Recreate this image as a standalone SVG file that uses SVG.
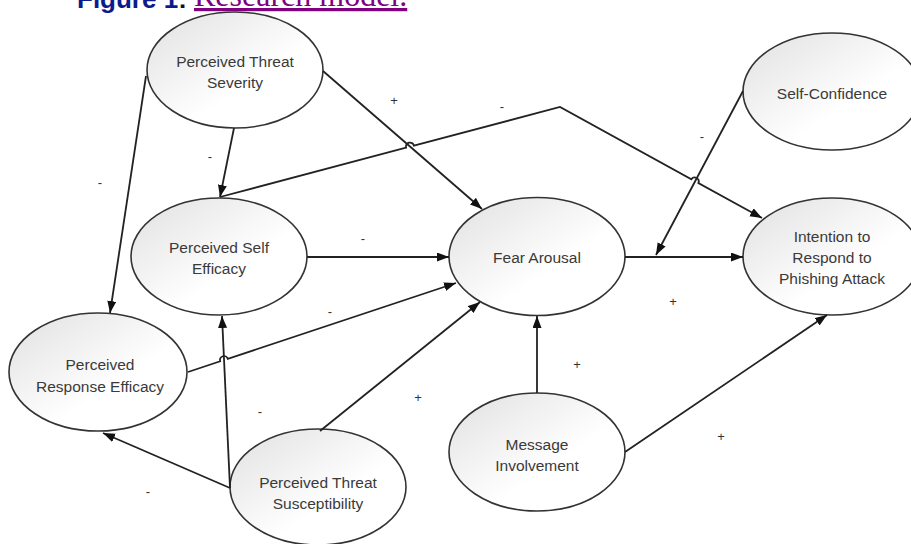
<svg xmlns="http://www.w3.org/2000/svg" width="911" height="544" viewBox="0 0 911 544">
<style>
  .node ellipse { fill: url(#g); stroke: #333; stroke-width: 1.6; }
  .node text { font-family: "Liberation Sans", Arial, sans-serif; font-size: 15.5px; fill: #3a3a3a; text-anchor: middle; }
  .conn path { fill: none; stroke: #222; stroke-width: 1.8; }
  .sign { font-family: "Liberation Sans", Arial, sans-serif; font-size: 13px; fill: #333; text-anchor: middle; }
</style>
<defs>
  <linearGradient id="g" x1="0" y1="0" x2="1" y2="1">
    <stop offset="0" stop-color="#e0e0e0"/>
    <stop offset="0.6" stop-color="#ffffff"/>
    <stop offset="1" stop-color="#ffffff"/>
  </linearGradient>
  <marker id="ah" markerUnits="userSpaceOnUse" markerWidth="13" markerHeight="10" refX="12" refY="4.5" orient="auto">
    <path d="M0,0 L12,4.5 L0,9 z" fill="#111"/>
  </marker>
</defs>
<rect width="911" height="544" fill="#fff"/>

<g id="title">
  <text x="77" y="8" font-family="Liberation Sans, Arial, sans-serif" font-weight="bold" font-size="26" fill="#0b1b8f">Figure 1<tspan fill="#111">:</tspan></text>
  <text x="194" y="6" font-family="Liberation Serif, Times New Roman, serif" font-size="32" fill="#800080" text-decoration="underline">Research model.</text>
</g>

<g id="node-threat-severity" class="node">
  <ellipse cx="235" cy="70" rx="88" ry="58"/>
  <text x="235" y="66.5">Perceived Threat</text>
  <text x="235" y="87.5">Severity</text>
</g>
<g id="node-self-confidence" class="node">
  <ellipse cx="832" cy="91.5" rx="89" ry="58.5"/>
  <text x="832" y="98.5">Self-Confidence</text>
</g>
<g id="node-self-efficacy" class="node">
  <ellipse cx="219" cy="256.5" rx="88" ry="58.5"/>
  <text x="219" y="252.5">Perceived Self</text>
  <text x="219" y="273.5">Efficacy</text>
</g>
<g id="node-fear-arousal" class="node">
  <ellipse cx="537" cy="256.5" rx="88" ry="59"/>
  <text x="537" y="262.5">Fear Arousal</text>
</g>
<g id="node-intention" class="node">
  <ellipse cx="832" cy="256.5" rx="89" ry="58.5"/>
  <text x="832" y="241.5">Intention to</text>
  <text x="832" y="262.5">Respond to</text>
  <text x="832" y="283.5">Phishing Attack</text>
</g>
<g id="node-response-efficacy" class="node">
  <ellipse cx="98" cy="372" rx="89" ry="59"/>
  <text x="100" y="369.5">Perceived</text>
  <text x="100" y="391.5">Response Efficacy</text>
</g>
<g id="node-threat-susceptibility" class="node">
  <ellipse cx="318" cy="487" rx="88" ry="58"/>
  <text x="318" y="487.5">Perceived Threat</text>
  <text x="318" y="508.5">Susceptibility</text>
</g>
<g id="node-message-involvement" class="node">
  <ellipse cx="537" cy="452" rx="88" ry="59"/>
  <text x="537" y="449.5">Message</text>
  <text x="537" y="470.5">Involvement</text>
</g>

<g id="connectors" class="conn">
  <path d="M146,76 L110,313" marker-end="url(#ah)"/>
  <path d="M234,128 L220,197" marker-end="url(#ah)"/>
  <path d="M323,71 L482,209" marker-end="url(#ah)"/>
  <path d="M220,197 L406.1,147.6 A4,4 0 0 1 413.9,145.6 L560,107 L691.4,179.3 A4,4 0 0 1 698.4,183.1 L762,218" marker-end="url(#ah)"/>
  <path d="M743,91 L656,255" marker-end="url(#ah)"/>
  <path d="M307,257 L449,257" marker-end="url(#ah)"/>
  <path d="M625,257 L743,257" marker-end="url(#ah)"/>
  <path d="M188,372 L220.2,361.3 A4,4 0 0 1 227.8,358.8 L456,283" marker-end="url(#ah)"/>
  <path d="M230,488 L103,433" marker-end="url(#ah)"/>
  <path d="M230,488 L222,316" marker-end="url(#ah)"/>
  <path d="M320,431 L480,302" marker-end="url(#ah)"/>
  <path d="M537,393 L537,316" marker-end="url(#ah)"/>
  <path d="M625,452 L827,315" marker-end="url(#ah)"/>
</g>

<g id="signs">
  <text class="sign" x="394" y="104.5">+</text>
  <text class="sign" x="502" y="111">-</text>
  <text class="sign" x="702" y="141">-</text>
  <text class="sign" x="210" y="161">-</text>
  <text class="sign" x="100" y="187">-</text>
  <text class="sign" x="363" y="243">-</text>
  <text class="sign" x="330" y="316">-</text>
  <text class="sign" x="673" y="305.5">+</text>
  <text class="sign" x="260" y="416">-</text>
  <text class="sign" x="418" y="401.5">+</text>
  <text class="sign" x="148" y="496">-</text>
  <text class="sign" x="577" y="368.5">+</text>
  <text class="sign" x="721" y="440.5">+</text>
</g>
</svg>
